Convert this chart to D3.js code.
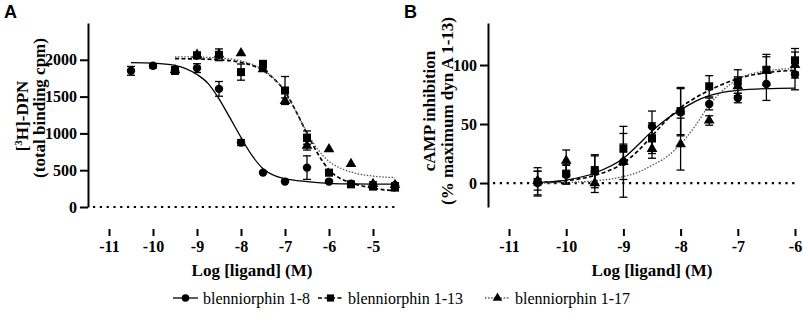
<!DOCTYPE html>
<html>
<head>
<meta charset="utf-8">
<script src="https://cdn.jsdelivr.net/npm/d3@7"></script>
<style>
  body { margin: 0; background: #fff; }
  svg { display: block; }
  .tick text { font-family: "Liberation Serif", "Times New Roman", serif; font-weight: bold; font-size: 16px; fill: #000; }
</style>
</head>
<body>
<svg id="chart" width="803" height="317"></svg>
<script>
// ---- panel A: [3H]-DPN binding ----
var logA8 = [-10.5, -10, -9.5, -9, -8.5, -8, -7.5, -7, -6.5, -6, -5.5, -5, -4.5];
var bl8A = [1850, 1918, 1855, 1887, 1605, 875, 467, 345, 535, 345, 315, 300, 295];
var err8A = [60, 30, 50, 60, 100, 40, 0, 0, 160, 20, 0, 0, 0];

var logA13 = [-9.5, -9, -8.5, -8, -7.5, -7, -6.5, -6, -5.5, -5, -4.5];
var bl13A = [1855, 2060, 2068, 1833, 1941, 1583, 943, 467, 308, 277, 263];
var err13A = [50, 40, 80, 110, 50, 190, 90, 40, 20, 20, 20];
var bl17A = [1860, 2070, 2075, 2090, 1873, 1442, 834, 785, 585, 313, 300];
var err17A = [30, 30, 30, 0, 30, 40, 60, 0, 0, 30, 30];

// fitted curves
var fitLogA8 = [-10.5, -10, -9.5, -9, -8.75, -8.5, -8.25, -8, -7.75, -7.5, -7.25, -7, -6.5, -6, -5.5, -5, -4.5];
var fit8A = [1962, 1955, 1925, 1800, 1680, 1470, 1210, 945, 700, 520, 430, 385, 345, 322, 314, 311, 310];
var fitLogA13 = [-9.5, -9, -8.5, -8, -7.5, -7.25, -7, -6.75, -6.5, -6.25, -6, -5.75, -5.5, -5, -4.5];
var fit13A = [2015, 2012, 2000, 1965, 1855, 1740, 1570, 1300, 1000, 720, 505, 390, 330, 255, 220];
var fit17A = [2040, 2037, 2025, 1985, 1865, 1745, 1565, 1300, 1010, 780, 620, 530, 475, 420, 400];

// ---- panel B: cAMP inhibition ----
var logB = [-10.5, -10, -9.5, -9, -8.5, -8, -7.5, -7, -6.5, -6];
var bl8B = [0, 7, 10, 18, 48, 60, 67, 72, 84, 92];
var err8B = [10, 8, 14, 30, 13, 20, 5, 4, 14, 13];
var bl13B = [1, 8, 11, 29, 38, 61, 82, 86, 96, 104];
var err13B = [12, 8, 12, 13, 13, 20, 9, 10, 13, 10];
var bl17B = [2, 19, 0, 18, 29, 33, 53, 82, 95, 100];
var err17B = [8, 9, 8, 15, 8, 22, 4, 8, 12, 11];

var fitLogB = [-10.5, -10, -9.5, -9, -8.75, -8.5, -8.25, -8, -7.75, -7.5, -7.25, -7, -6.5, -6];
var fit8B = [0.5, 2.5, 8.5, 21, 32, 44, 54, 62, 69, 74, 77, 78.5, 80, 80.5];
var fit13B = [0.3, 2, 6.5, 17, 27, 40, 53, 64, 72, 78.5, 84, 88.5, 93.5, 95.5];
var fit17B = [0, 0.5, 1.8, 5.5, 9, 15, 22, 33, 48, 66, 79, 88, 95, 97];

var ticksA = [0, 500, 1000, 1500, 2000];
var ticksB = [0, 50, 100];
var xTicksA = [-11, -10, -9, -8, -7, -6, -5];
var xTicksB = [-11, -10, -9, -8, -7, -6];
var seriesNames = ["blenniorphin 1-8", "blenniorphin 1-13", "blenniorphin 1-17"];

var svg = d3.select("#chart");
var serif = '"Liberation Serif", "Times New Roman", serif';
var plain = function(d) { return String(d); }; // keeps the ascii hyphen as minus

var styles = [
    {shape: d3.symbolCircle, size: 56, dash: null, width: 1.3, color: "#000"},
    {shape: d3.symbolSquare, size: 64, dash: "4,2.5", width: 1.7, color: "#000"},
    {shape: d3.symbolTriangle, size: 50, dash: "1.5,1.6", width: 1.3, color: "#555"}
];

function zip(xs, ys, es) {
    return xs.map(function(x, i) { return {x: x, y: ys[i], e: es ? es[i] : 0}; });
}

function drawPanel(opt) {
    var x = d3.scaleLinear().domain(opt.xDomain).range(opt.xRange);
    var y = d3.scaleLinear().domain(opt.yDomain).range([207, 23]);
    var g = svg.append("g");

    // y axis
    g.append("g")
        .attr("transform", `translate(${opt.xRange[0] - 21},0)`)
        .call(d3.axisLeft(y).tickValues(opt.yTicks).tickSize(8).tickSizeOuter(0).tickPadding(3).tickFormat(plain))
        .call(function(a) { a.selectAll("path, line").attr("stroke-width", 2); });

    // x axis, offset below the plot
    g.append("g")
        .attr("transform", "translate(0,229)")
        .call(d3.axisBottom(x).tickValues(opt.xTicks).tickSize(7).tickSizeOuter(7).tickPadding(5).tickFormat(plain))
        .call(function(a) {
            a.select(".domain").attr("d", `M${opt.xRange[0]},236V229H${opt.xRange[1]}V236`);
            a.selectAll("path, line").attr("stroke-width", 2);
        });

    // dotted zero line
    g.append("line")
        .attr("x1", opt.xRange[0] - 16).attr("x2", opt.xRange[1])
        .attr("y1", y(0)).attr("y2", y(0))
        .attr("stroke", "#000").attr("stroke-width", 2.2)
        .attr("stroke-dasharray", "2.2,4.6");

    var line = d3.line()
        .x(function(d) { return x(d.x); })
        .y(function(d) { return y(d.y); })
        .curve(d3.curveMonotoneX);

    opt.fits.forEach(function(f, i) {
        var st = styles[i];
        g.append("path")
            .datum(zip(f[0], f[1]))
            .attr("d", line)
            .attr("fill", "none")
            .attr("stroke", st.color)
            .attr("stroke-width", st.width)
            .attr("stroke-dasharray", st.dash);
    });

    opt.points.forEach(function(p, i) {
        var st = styles[i];
        var pts = zip(p[0], p[1], p[2]);
        var eb = g.append("g").selectAll("g")
            .data(pts.filter(function(d) { return d.e > 0; }))
            .enter().append("g").attr("stroke", "#000").attr("stroke-width", 1.3);
        eb.append("line")
            .attr("x1", function(d) { return x(d.x); }).attr("x2", function(d) { return x(d.x); })
            .attr("y1", function(d) { return y(d.y - d.e); }).attr("y2", function(d) { return y(d.y + d.e); });
        eb.append("line")
            .attr("x1", function(d) { return x(d.x) - 4; }).attr("x2", function(d) { return x(d.x) + 4; })
            .attr("y1", function(d) { return y(d.y + d.e); }).attr("y2", function(d) { return y(d.y + d.e); });
        eb.append("line")
            .attr("x1", function(d) { return x(d.x) - 4; }).attr("x2", function(d) { return x(d.x) + 4; })
            .attr("y1", function(d) { return y(d.y - d.e); }).attr("y2", function(d) { return y(d.y - d.e); });

        g.append("g").selectAll("path")
            .data(pts)
            .enter().append("path")
            .attr("d", d3.symbol().type(st.shape).size(st.size))
            .attr("transform", function(d) { return `translate(${x(d.x)},${y(d.y)})`; })
            .attr("fill", "#000");
    });

    // panel letter
    g.append("text")
        .attr("x", opt.letterX).attr("y", 18)
        .attr("font-family", '"Liberation Sans", Arial, sans-serif')
        .attr("font-weight", "bold").attr("font-size", 18)
        .text(opt.letter);

    // x title
    g.append("text")
        .attr("x", (opt.xRange[0] + opt.xRange[1]) / 2).attr("y", 276)
        .attr("text-anchor", "middle")
        .attr("font-family", serif).attr("font-weight", "bold").attr("font-size", 17)
        .text("Log [ligand] (M)");

    // y title, two lines
    opt.yTitle.forEach(function(t, i) {
        var txt = g.append("text")
            .attr("transform", `translate(${t.x},${t.y}) rotate(-90)`)
            .attr("text-anchor", "middle")
            .attr("dy", "0.35em")
            .attr("font-family", serif).attr("font-weight", "bold").attr("font-size", 17);
        t.parts.forEach(function(part) {
            var ts = txt.append("tspan").text(part.s);
            if (part.sup) ts.attr("baseline-shift", "super").attr("font-size", 11);
        });
    });
}

drawPanel({
    letter: "A", letterX: 4,
    xDomain: [-11, -4.5], xRange: [109, 395], xTicks: xTicksA,
    yDomain: [0, 2500], yTicks: ticksA,
    fits: [[fitLogA8, fit8A], [fitLogA13, fit13A], [fitLogA13, fit17A]],
    points: [[logA8, bl8A, err8A], [logA13, bl13A, err13A], [logA13, bl17A, err17A]],
    yTitle: [
        {x: 22, y: 116, parts: [{s: "["}, {s: "3", sup: true}, {s: "H]-DPN"}]},
        {x: 39, y: 108, parts: [{s: "(total binding cpm)"}]}
    ]
});

drawPanel({
    letter: "B", letterX: 404,
    xDomain: [-11, -6], xRange: [509, 795], xTicks: xTicksB,
    yDomain: [-20.3, 135.6], yTicks: ticksB,
    fits: [[fitLogB, fit8B], [fitLogB, fit13B], [fitLogB, fit17B]],
    points: [[logB, bl8B, err8B], [logB, bl13B, err13B], [logB, bl17B, err17B]],
    yTitle: [
        {x: 429, y: 111, parts: [{s: "cAMP inhibition"}]},
        {x: 447, y: 111, parts: [{s: "(% maximum dyn A 1-13)"}]}
    ]
});

// legend
var legendX = [173, 318, 485];
var legend = svg.append("g").selectAll("g")
    .data(seriesNames)
    .enter().append("g")
    .attr("transform", function(d, i) { return `translate(${legendX[i]},298)`; });
legend.append("line")
    .attr("x1", 0).attr("x2", 25).attr("y1", 0).attr("y2", 0)
    .attr("stroke", function(d, i) { return styles[i].color; })
    .attr("stroke-width", function(d, i) { return styles[i].width; })
    .attr("stroke-dasharray", function(d, i) { return styles[i].dash; });
legend.append("path")
    .attr("d", function(d, i) { return d3.symbol().type(styles[i].shape).size(styles[i].size * 0.8)(); })
    .attr("transform", "translate(12.5,0)")
    .attr("fill", "#000");
legend.append("text")
    .attr("x", 30).attr("y", 6)
    .attr("font-family", serif).attr("font-size", 16)
    .text(function(d) { return d; });
</script>
</body>
</html>
